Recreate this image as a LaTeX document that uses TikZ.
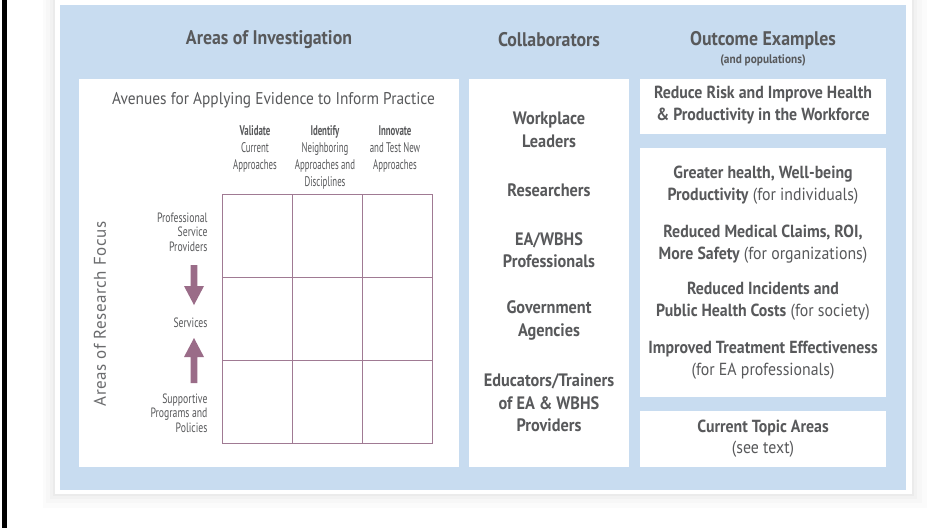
\documentclass[tikz,border=0pt]{standalone}
\usepackage{fontspec}
\setmainfont{PT Sans}
\newfontfamily\nar[FakeStretch=0.905]{PT Sans}
\newfontfamily\cond[FakeStretch=0.63]{PT Sans}
\newfontfamily\condr[FakeStretch=0.72]{PT Sans}
\newfontfamily\spaced[LetterSpace=3]{PT Sans}
\definecolor{bluebg}{HTML}{C8DCF0}
\definecolor{txt}{HTML}{58595B}
\definecolor{txtl}{HTML}{6A6B6D}
\definecolor{mauve}{HTML}{A07A93}
\definecolor{mauvea}{HTML}{9A6C88}
\tikzset{
  wbox/.style={fill=white, draw=none, inner sep=0pt, minimum width=#1},
  hdr/.style={font=\nar\bfseries\fontsize{19.7}{22}\selectfont, text=txt, align=center},
  subhdr/.style={font=\nar\bfseries\fontsize{12.5}{14}\selectfont, text=txt},
  coll/.style={font=\nar\bfseries\fontsize{18}{22.5}\selectfont, text=txt, align=center},
  outc/.style={font=\nar\fontsize{17.5}{21.5}\selectfont, text=txt, align=center},
  colhd/.style={font=\cond\fontsize{14}{17}\selectfont, text=txt, align=center, anchor=north},
  rowlb/.style={font=\condr\fontsize{13.5}{14.7}\selectfont, text=txt, align=right, anchor=east},
  gridln/.style={draw=mauve, line width=0.9pt},
  blockarrow/.style={fill=mauvea, draw=none}
}
\begin{document}
\begin{tikzpicture}[x=1pt,y=-1pt]
\useasboundingbox (0,0) rectangle (952,528);
% left black rule
\fill[black] (1.5,0) rectangle (7,528);
% shadow and white card
\fill[black!1.5] (43,0) rectangle (927,508);
\fill[black!3] (46,0) rectangle (922,503);
\fill[black!5] (50,0) rectangle (917,499);
\fill[black!8] (53,0) rectangle (914,496);
\fill[white] (55,0) rectangle (912,494);
% blue panel
\node[fill=bluebg, inner sep=0pt, minimum width=846pt, minimum height=485pt] (panel) at (483,247.5) {};
% white boxes
\node[wbox=380pt, minimum height=388pt] (left) at (269,273) {};
\node[wbox=160pt, minimum height=388pt] (coll) at (549,273) {};
\node[wbox=246pt, minimum height=55pt] (out1) at (763,106.5) {};
\node[wbox=246pt, minimum height=249pt] (out2) at (763,272.5) {};
\node[wbox=246pt, minimum height=56pt] (out3) at (763,439) {};
% headers
\node[hdr] (hAI) at (269,40) {Areas of Investigation};
\node[hdr] (hC) at (549,40) {Collaborators};
\node[hdr] (hO) at (763,40) {Outcome Examples};
\node[subhdr] (hOs) at (763,60.5) {(and populations)};
% left box content
\node[font=\nar\fontsize{17}{20}\selectfont, text=txt] (aven) at (273.5,100) {Avenues for Applying Evidence to Inform Practice};
\node[colhd] (c1) at (255,122) {\textbf{Validate}\\Current\\Approaches};
\node[colhd] (c2) at (325,122) {\textbf{Identify}\\Neighboring\\Approaches and\\Disciplines};
\node[colhd] (c3) at (395,122) {\textbf{Innovate}\\and Test New\\Approaches};
% grid
\coordinate (g00) at (222.7,194.7);
\coordinate (g33) at (432.7,443);
\draw[gridln] (g00) rectangle (g33);
\draw[gridln] (292.3,194.7) -- (292.3,443);
\draw[gridln] (362.3,194.7) -- (362.3,443);
\draw[gridln] (222.7,277) -- (432.7,277);
\draw[gridln] (222.7,360) -- (432.7,360);
% row labels
\node[rowlb] (r1) at (211,232) {Professional\\Service\\Providers};
\node[rowlb] (r2) at (211,323) {Services};
\node[rowlb] (r3) at (211,413) {Supportive\\Programs and\\Policies};
% block arrows
\fill[blockarrow] (190.7,265) -- (197.3,265) -- (197.3,286) -- (204,286) -- (194,305) -- (184,286) -- (190.7,286) -- cycle;
\fill[blockarrow] (190.7,383) -- (197.3,383) -- (197.3,357) -- (204,357) -- (194,338) -- (184,357) -- (190.7,357) -- cycle;
% vertical label
\node[rotate=90, font=\spaced\fontsize{17}{18}\selectfont, text=txtl] (vert) at (100,314) {Areas of Research Focus};
% collaborators
\node[coll] (k1) at (549,130) {Workplace\\Leaders};
\node[coll] (k2) at (549,190) {Researchers};
\node[coll] (k3) at (549,250) {EA/WBHS\\Professionals};
\node[coll] (k4) at (549,320.5) {Government\\Agencies};
\node[coll] (k5) at (549,403) {Educators/Trainers\\of EA \& WBHS\\Providers};
% outcomes
\node[outc] (o1) at (763,105) {\textbf{Reduce Risk and Improve Health}\\\textbf{\& Productivity in the Workforce}};
\node[outc] (o2) at (763,185) {\textbf{Greater health, Well-being}\\\textbf{Productivity} (for individuals)};
\node[outc] (o3) at (763,244) {\textbf{Reduced Medical Claims, ROI,}\\\textbf{More Safety} (for organizations)};
\node[outc] (o4) at (763,301) {\textbf{Reduced Incidents and}\\\textbf{Public Health Costs} (for society)};
\node[outc] (o5) at (763,360) {\textbf{Improved Treatment Effectiveness}\\(for EA professionals)};
\node[outc] (o6) at (763,438.5) {\textbf{Current Topic Areas}\\(see text)};
\end{tikzpicture}
\end{document}
